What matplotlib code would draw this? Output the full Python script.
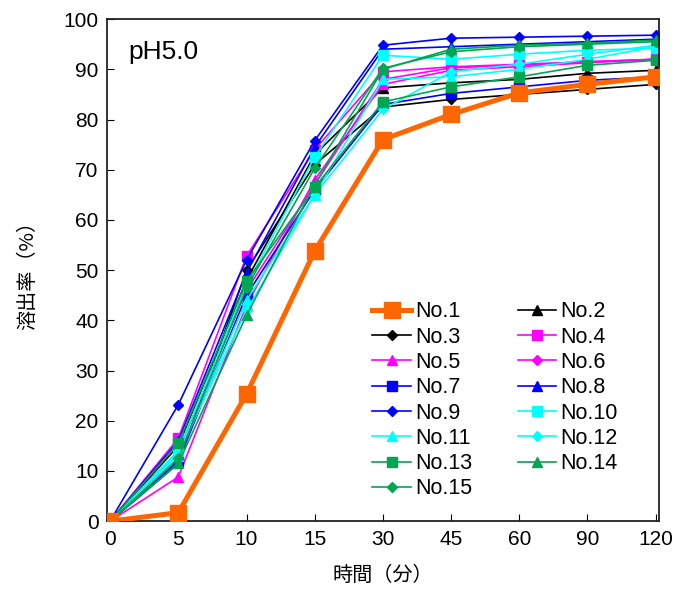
import matplotlib
matplotlib.use("Agg")
import matplotlib.pyplot as plt

plt.rcParams['font.family'] = ['Liberation Sans', 'Noto Sans CJK JP', 'DejaVu Sans']

# 時間（分） categories, equally spaced
times = ['0', '5', '10', '15', '30', '45', '60', '90', '120']

no1 = [0, 1.7, 25.3, 53.8, 76.0, 81.0, 85.3, 87.0, 88.5]
no2 = [0, 15.0, 48.0, 73.0, 86.3, 87.3, 88.0, 89.2, 89.8]
no3 = [0, 11.5, 50.0, 71.0, 82.5, 84.0, 85.0, 86.0, 87.0]
no4 = [0, 16.5, 52.8, 74.0, 89.5, 90.5, 91.0, 91.5, 92.0]
no5 = [0, 8.8, 43.0, 68.0, 87.0, 89.8, 90.5, 91.3, 92.0]
no6 = [0, 14.0, 46.0, 67.0, 88.0, 90.3, 90.8, 91.5, 92.0]
no7 = [0, 12.0, 45.0, 66.0, 83.0, 85.2, 86.5, 87.8, 88.5]
no8 = [0, 16.0, 49.5, 74.5, 94.0, 94.5, 95.0, 95.5, 96.0]
no9 = [0, 23.2, 52.0, 75.8, 94.8, 96.2, 96.4, 96.6, 96.8]
no10 = [0, 14.0, 47.0, 72.5, 92.8, 92.0, 93.0, 93.8, 94.2]
no11 = [0, 13.0, 44.0, 65.0, 88.0, 88.5, 90.0, 92.0, 94.5]
no12 = [0, 13.5, 42.0, 65.0, 82.0, 89.5, 91.0, 93.0, 94.8]
no13 = [0, 15.5, 47.8, 66.5, 83.5, 86.5, 88.5, 90.8, 91.8]
no14 = [0, 11.5, 41.0, 67.0, 90.0, 94.0, 94.8, 95.2, 95.8]
no15 = [0, 12.5, 46.5, 70.3, 90.2, 93.5, 94.5, 95.0, 95.5]

labels = ['No.%d' % i for i in range(1, 16)]
series = [no1, no2, no3, no4, no5, no6, no7, no8, no9, no10, no11, no12, no13, no14, no15]

green = '#00A651'
colors = ['#FF6600', 'black', 'black', '#FF00FF', '#FF00FF', '#FF00FF',
          '#0000FF', '#0000FF', '#0000FF', '#00FFFF', '#00FFFF', '#00FFFF',
          green, green, green]
markers = ['s', '^', 'D', 's', '^', 'D', 's', '^', 'D', 's', '^', 'D', 's', '^', 'D']

fig = plt.figure(figsize=(6.93, 5.97), dpi=100)
ax = fig.add_axes([0.154, 0.127, 0.797, 0.841])

x = range(len(times))
handles = []
for i, (vals, lab) in enumerate(zip(series, labels)):
    if i == 0:
        h, = ax.plot(x, vals, color=colors[i], marker='s', markersize=11, linewidth=3.6,
                     label=lab, zorder=5)
    else:
        ms = 5 if markers[i] == 'D' else 6.5
        h, = ax.plot(x, vals, color=colors[i], marker=markers[i], markersize=ms,
                     linewidth=1.2, label=lab)
    handles.append(h)

ax.set_xlim(-0.05, len(times) - 1 + 0.05)
ax.set_ylim(0, 100)
ax.set_xticks(list(x))
ax.set_xticklabels(times)
ax.set_yticks(range(0, 101, 10))
ax.tick_params(direction='in', labelsize=15, length=5, pad=6)
for s in ax.spines.values():
    s.set_linewidth(1.3)
    s.set_color('#222222')

ax.set_xlabel('時間（分）', fontsize=14.5, family=['Noto Sans CJK JP'], labelpad=12)
ax.set_ylabel('溶出率（%）', fontsize=14.5, family=['Noto Sans CJK JP'], labelpad=18)

ax.text(0.04, 0.935, 'pH5.0', transform=ax.transAxes, fontsize=19, va='center')

# row-major legend order: No.1 | No.2 on the first row
order = list(range(0, 15, 2)) + list(range(1, 15, 2))
ax.legend([handles[k] for k in order], [labels[k] for k in order],
          ncol=2, loc='upper left', bbox_to_anchor=(0.465, 0.455), frameon=False,
          fontsize=15.5, handlelength=1.8, columnspacing=2.1, labelspacing=0.2,
          handletextpad=0.2, borderaxespad=0)

fig.savefig('out.png', dpi=100)
